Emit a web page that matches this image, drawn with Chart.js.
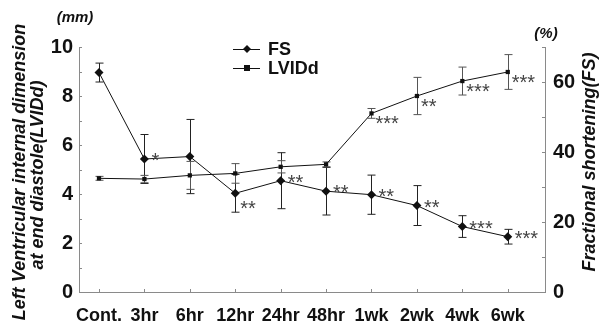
<!DOCTYPE html>
<html>
<head>
<meta charset="utf-8">
<script src="https://cdn.jsdelivr.net/npm/chart.js@4/dist/chart.umd.min.js"></script>
<style>
  html, body { margin: 0; padding: 0; background: #fff; }
  #wrap { width: 602px; height: 333px; }
</style>
</head>
<body>
<div id="wrap"><canvas id="chart"></canvas></div>
<script>
const categories = ['Cont.', '3hr', '6hr', '12hr', '24hr', '48hr', '1wk', '2wk', '4wk', '6wk'];
const fsValues = [62.7, 38.0, 38.7, 28.2, 31.8, 28.8, 27.8, 24.7, 18.7, 15.8];
const fsErrors = [2.7, 7.0, 10.6, 5.4, 8.0, 6.8, 5.6, 5.7, 3.1, 2.1];
const lviddValues = [4.64, 4.61, 4.76, 4.84, 5.11, 5.21, 7.29, 8.0, 8.61, 8.98];
const lviddErrors = [0.08, 0.15, 0.57, 0.4, 0.25, 0.1, 0.2, 0.76, 0.57, 0.71];
const fsMarks = ['', '*', '', '**', '**', '**', '**', '**', '***', '***'];
const lviddMarks = ['', '', '', '', '', '', '***', '**', '***', '***'];
const leftTicks = [0, 2, 4, 6, 8, 10];
const rightTicks = [0, 20, 40, 60];

const FONT = '"Liberation Sans", Arial, sans-serif';
const AXIS = '#8a8a8a';

const toPoints = (vals) => vals.map((v, i) => ({ x: i, y: v }));

// error bars with caps, drawn under the markers
const errorBars = {
    id: 'errorBars',
    beforeDatasetsDraw(chart) {
        const ctx = chart.ctx;
        const x = chart.scales.x;
        const sets = [
            { vals: fsValues, errs: fsErrors, scale: chart.scales.y2, color: '#222' },
            { vals: lviddValues, errs: lviddErrors, scale: chart.scales.y, color: '#555' }
        ];
        ctx.save();
        ctx.lineWidth = 1;
        sets.forEach(s => {
            ctx.strokeStyle = s.color;
            s.vals.forEach((v, i) => {
                const px = Math.round(x.getPixelForValue(i)) + 0.5;
                const top = s.scale.getPixelForValue(v + s.errs[i]);
                const bot = s.scale.getPixelForValue(v - s.errs[i]);
                ctx.beginPath();
                ctx.moveTo(px, top); ctx.lineTo(px, bot);
                ctx.moveTo(px - 4, top); ctx.lineTo(px + 4, top);
                ctx.moveTo(px - 4, bot); ctx.lineTo(px + 4, bot);
                ctx.stroke();
            });
        });
        ctx.restore();
    }
};

// inner tick marks, significance stars, titles and legend
const decorations = {
    id: 'decorations',
    afterDraw(chart) {
        const ctx = chart.ctx;
        const { x, y, y2 } = chart.scales;
        const area = chart.chartArea;
        ctx.save();

        // tick marks pointing into the plot
        ctx.strokeStyle = AXIS;
        ctx.lineWidth = 1;
        ctx.beginPath();
        for (let v = 0; v <= 10; v++) {
            const py = Math.round(y.getPixelForValue(v)) + 0.5;
            ctx.moveTo(area.left, py); ctx.lineTo(area.left + 3, py);
        }
        for (let v = 0; v <= 70; v += 10) {
            const py = Math.round(y2.getPixelForValue(v)) + 0.5;
            ctx.moveTo(area.right, py); ctx.lineTo(area.right - 3, py);
        }
        categories.forEach((c, i) => {
            const px = Math.round(x.getPixelForValue(i)) + 0.5;
            ctx.moveTo(px, area.bottom); ctx.lineTo(px, area.bottom - 3);
        });
        ctx.stroke();

        // significance stars
        ctx.fillStyle = '#444';
        ctx.font = '20px ' + FONT;
        ctx.textAlign = 'left';
        ctx.textBaseline = 'alphabetic';
        fsMarks.forEach((m, i) => {
            if (!m) return;
            const px = x.getPixelForValue(i);
            const py = y2.getPixelForValue(fsValues[i]);
            if (i === 3) ctx.fillText(m, px + 5, py + 22);
            else ctx.fillText(m, px + 7, py + 8);
        });
        lviddMarks.forEach((m, i) => {
            if (!m) return;
            const px = x.getPixelForValue(i);
            const py = y.getPixelForValue(lviddValues[i]);
            ctx.fillText(m, px + 4, py + 17);
        });

        // axis titles
        ctx.fillStyle = '#111';
        ctx.font = 'italic bold 18px ' + FONT;
        ctx.textAlign = 'center';
        ctx.textBaseline = 'middle';
        ctx.save();
        ctx.translate(20, 172);
        ctx.rotate(-Math.PI / 2);
        ctx.fillText('Left Ventricular internal dimension', 0, 0);
        ctx.restore();
        ctx.save();
        ctx.translate(38, 175);
        ctx.rotate(-Math.PI / 2);
        ctx.fillText('at end diastole(LVIDd)', 0, 0);
        ctx.restore();
        ctx.save();
        ctx.translate(590, 162);
        ctx.rotate(-Math.PI / 2);
        ctx.fillText('Fractional shortening(FS)', 0, 0);
        ctx.restore();

        ctx.font = 'italic bold 15px ' + FONT;
        ctx.fillText('(mm)', 75, 18);
        ctx.fillText('(%)', 546, 34);

        // legend
        const legend = [
            { label: 'FS', style: 'diamond', y: 49 },
            { label: 'LVIDd', style: 'square', y: 68 }
        ];
        legend.forEach(item => {
            ctx.strokeStyle = '#111';
            ctx.fillStyle = '#111';
            ctx.beginPath();
            ctx.moveTo(233, item.y + 0.5); ctx.lineTo(260, item.y + 0.5);
            ctx.stroke();
            ctx.beginPath();
            if (item.style === 'diamond') {
                ctx.moveTo(247, item.y - 4); ctx.lineTo(251, item.y);
                ctx.lineTo(247, item.y + 4); ctx.lineTo(243, item.y);
                ctx.closePath(); ctx.fill();
            } else {
                ctx.fillRect(244, item.y - 3, 6, 6);
            }
            ctx.font = 'bold 18px ' + FONT;
            ctx.textAlign = 'left';
            ctx.fillText(item.label, 268, item.y + 1);
        });
        ctx.restore();
    }
};

new Chart(document.getElementById('chart').getContext('2d'), {
    type: 'line',
    data: {
        datasets: [
            {
                label: 'FS',
                data: toPoints(fsValues),
                yAxisID: 'y2',
                borderColor: '#111',
                borderWidth: 1,
                backgroundColor: '#111',
                pointStyle: 'rectRot',
                pointRadius: 4.5,
                pointBorderWidth: 0,
                tension: 0
            },
            {
                label: 'LVIDd',
                data: toPoints(lviddValues),
                yAxisID: 'y',
                borderColor: '#111',
                borderWidth: 1,
                backgroundColor: '#111',
                pointStyle: 'rect',
                pointRadius: 3,
                pointBorderWidth: 0,
                tension: 0
            }
        ]
    },
    options: {
        responsive: true,
        maintainAspectRatio: false,
        animation: false,
        layout: { padding: { top: 47, left: 0, right: 0, bottom: 0 } },
        plugins: {
            legend: { display: false },
            tooltip: { enabled: false }
        },
        scales: {
            x: {
                type: 'linear',
                min: -0.44,
                max: 9.82,
                grid: { display: false, drawTicks: false },
                border: { color: AXIS, width: 1 },
                afterBuildTicks: (s) => { s.ticks = categories.map((c, i) => ({ value: i })); },
                afterFit: (s) => { s.height = 41; },
                ticks: {
                    autoSkip: false,
                    maxRotation: 0,
                    padding: 13,
                    color: '#111',
                    font: { family: FONT, size: 18, weight: 'bold' },
                    callback: (v) => categories[v]
                }
            },
            y: {
                position: 'left',
                min: 0,
                max: 10,
                grid: { display: false, drawTicks: false },
                border: { color: AXIS, width: 1 },
                afterBuildTicks: (s) => { s.ticks = leftTicks.map(v => ({ value: v })); },
                afterFit: (s) => { s.width = 79; },
                ticks: {
                    padding: 6,
                    color: '#111',
                    font: { family: FONT, size: 20, weight: 'bold' }
                }
            },
            y2: {
                position: 'right',
                min: 0,
                max: 70,
                grid: { display: false, drawTicks: false },
                border: { color: AXIS, width: 1 },
                afterBuildTicks: (s) => { s.ticks = rightTicks.map(v => ({ value: v })); },
                afterFit: (s) => { s.width = 57; },
                ticks: {
                    padding: 8,
                    color: '#111',
                    font: { family: FONT, size: 20, weight: 'bold' }
                }
            }
        }
    },
    plugins: [errorBars, decorations]
});
</script>
</body>
</html>
